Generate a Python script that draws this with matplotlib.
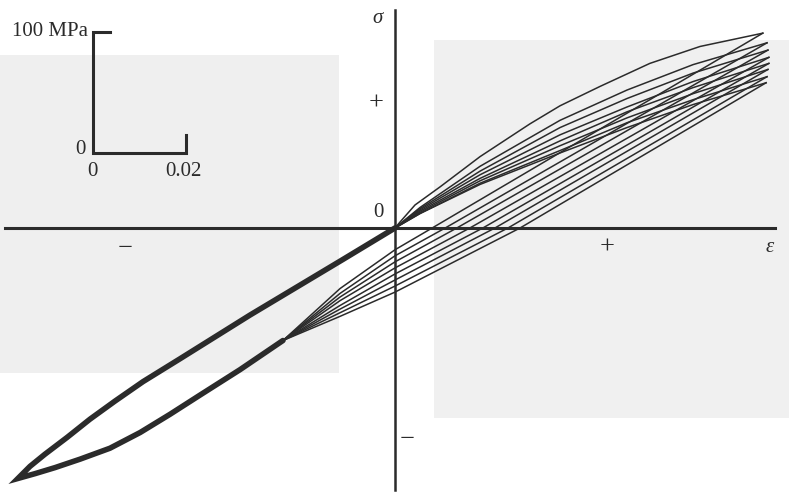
import matplotlib
matplotlib.use('Agg')
import matplotlib.pyplot as plt
from matplotlib.patches import Rectangle

# strain in %, stress in MPa

# reloading branch on the compression side (all cycles share it): tip -> origin
reload_eps = [-8.11, -7.85, -7.53, -7.05, -6.56, -6.02, -5.42, -4.62, -3.12, -1.12, 0.0]
reload_sig = [-207, -197, -187, -173, -158, -143, -127, -108, -72, -26, 0]

# common lower tail of the unloading branches: convergence point -> compression tip
tail_eps = [-2.41, -3.33, -4.19, -4.84, -5.48, -6.13, -6.77, -7.31, -7.74, -8.11]
tail_sig = [-93, -117, -138, -154, -169, -182, -191, -198, -203, -207]

# first (monotonic) loading from the origin
mono_eps = [0.0, 0.11, 0.43, 0.97, 1.83, 2.90, 3.55, 4.41, 5.48, 6.56, 7.91]
mono_sig = [0, 5, 19, 34, 59, 86, 101, 117, 136, 150, 161]

# tension tips, cycle 1..8
tip_eps = [7.91, 8.00, 8.02, 8.04, 8.04, 8.02, 8.00, 7.98]
tip_sig = [161, 153, 147, 141, 136, 131, 125, 120]

# reloading in tension for cycles 2..8 (then on to the tip)
load_eps = [0.0, 0.54, 1.83, 3.55, 4.99, 6.41]
load_sig = [
    [0, 17, 51, 89, 114, 135],
    [0, 16, 47, 83, 107, 128],
    [0, 15, 44, 77, 100, 121],
    [0, 14, 41, 72, 96, 116],
    [0, 13, 39, 68, 91, 111],
    [0, 12, 37, 64, 87, 106],
    [0, 12, 36, 62, 83, 102],
]

# unloading branches: tip -> zero stress -> zero strain -> eps=-1.18 -> tail
unl_zero_eps = [0.80, 1.08, 1.33, 1.61, 1.89, 2.15, 2.43, 2.69]
unl_zero_sig = [-18, -23, -28, -33, -38, -43, -48, -53]
unl_mid_eps = -1.18
unl_mid_sig = [-50, -54, -57, -60, -64, -67, -70, -73]

serif = ['Liberation Serif', 'DejaVu Serif']

fig = plt.figure(figsize=(7.89, 5.04), dpi=100)
ax = fig.add_axes([0, 0, 1, 1])
ax.set_xlim(-8.495, 8.473)
ax.set_ylim(-228.1, 188.4)
ax.axis('off')

# scanned page tint
ax.add_patch(Rectangle((0.0, 0.26), 0.43, 0.63, transform=ax.transAxes,
                       facecolor='#efefef', edgecolor='none', zorder=0))
ax.add_patch(Rectangle((0.55, 0.17), 0.45, 0.75, transform=ax.transAxes,
                       facecolor='#f0f0f0', edgecolor='none', zorder=0))

lc = '#2b2b2b'

# axes
ax.plot([-8.39, 8.17], [0, 0], color=lc, lw=2.2, zorder=3)
ax.plot([0, 0], [-216.5, 180.2], color=lc, lw=1.8, zorder=3)

# shared compression branches (thick because all cycles lie on them)
ax.plot(tail_eps + reload_eps[1:], tail_sig + reload_sig[1:], color=lc, lw=4.0,
        solid_joinstyle='miter', solid_capstyle='round', zorder=2)

# first loading
ax.plot(mono_eps, mono_sig, color=lc, lw=1.1, zorder=2)

# later reloadings in tension
for k, sig in enumerate(load_sig):
    ax.plot(load_eps + [tip_eps[k + 1]], sig + [tip_sig[k + 1]], color=lc, lw=1.1, zorder=2)

# unloadings
for i in range(len(tip_eps)):
    xs = [tip_eps[i], unl_zero_eps[i], 0.0, unl_mid_eps, tail_eps[0]]
    ys = [tip_sig[i], 0.0, unl_zero_sig[i], unl_mid_sig[i], tail_sig[0]]
    ax.plot(xs, ys, color=lc, lw=1.1, zorder=2)

# axis annotations
ax.text(-0.37, 173, 'σ', family=serif, style='italic', fontsize=15, ha='center', va='center', color=lc)
ax.text(-0.41, 103, '+', family=serif, fontsize=19, ha='center', va='center', color=lc)
ax.text(-0.36, 13, '0', family=serif, fontsize=15, ha='center', va='center', color=lc)
ax.text(-5.81, -17, '−', family=serif, fontsize=19, ha='center', va='center', color=lc)
ax.text(4.56, -16, '+', family=serif, fontsize=19, ha='center', va='center', color=lc)
ax.text(8.06, -16, 'ε', family=serif, style='italic', fontsize=15, ha='center', va='center', color=lc)
ax.text(0.26, -175, '−', family=serif, fontsize=19, ha='center', va='center', color=lc)

# scale bar: 100 MPa and 0.02 strain
bar_x0, bar_y0 = -6.5, 62
ax.plot([bar_x0 + 0.37, bar_x0, bar_x0, bar_x0 + 2.0, bar_x0 + 2.0],
        [bar_y0 + 100, bar_y0 + 100, bar_y0, bar_y0, bar_y0 + 15],
        color=lc, lw=2.2, solid_joinstyle='miter', zorder=3)
ax.text(bar_x0 - 0.1, bar_y0 + 100, '100 MPa', family=serif, fontsize=15,
        ha='right', va='center', color=lc)
ax.text(bar_x0 - 0.15, bar_y0 + 3, '0', family=serif, fontsize=15, ha='right', va='center', color=lc)
ax.text(bar_x0, bar_y0 - 15, '0', family=serif, fontsize=15, ha='center', va='center', color=lc)
ax.text(bar_x0 + 1.95, bar_y0 - 15, '0.02', family=serif, fontsize=15, ha='center', va='center', color=lc)

fig.savefig('out.png', dpi=100)
